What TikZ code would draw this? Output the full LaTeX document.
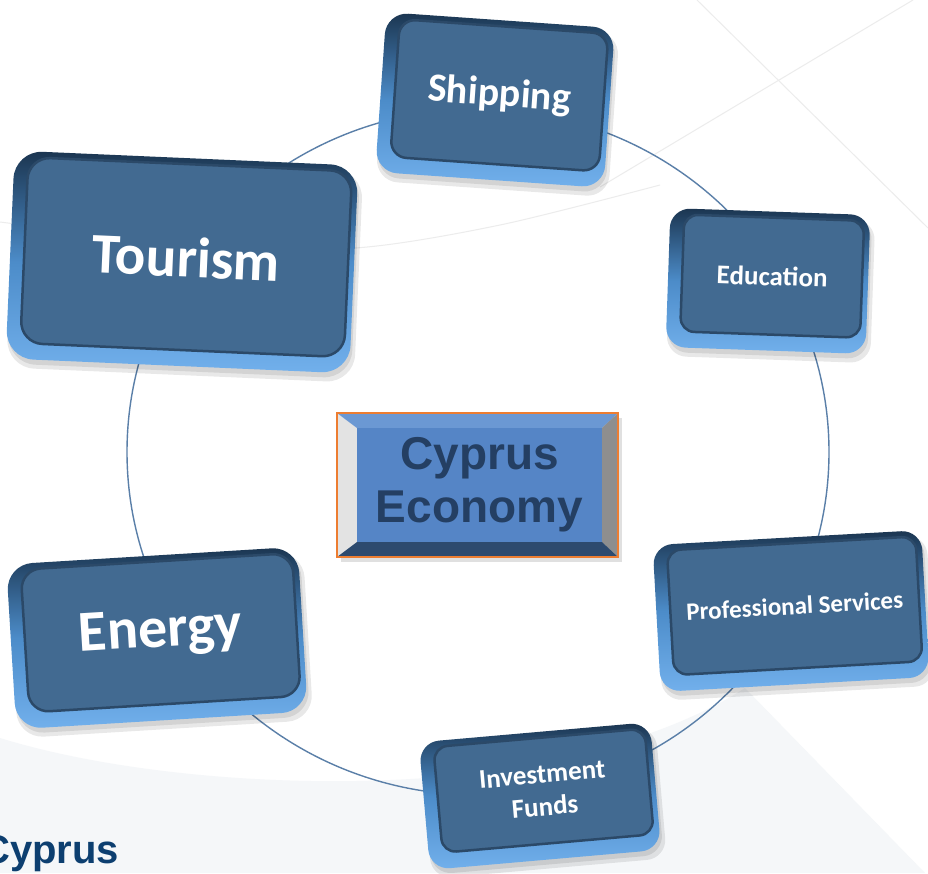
\documentclass[tikz,border=0pt]{standalone}
\usepackage{fontspec}
\newfontfamily\carlito{Carlito}
\newfontfamily\libsans{Liberation Sans}
\usetikzlibrary{calc}
\definecolor{ringcol}{HTML}{5A7FA8}
\definecolor{rimtop}{HTML}{1B3550}
\definecolor{rimmid}{HTML}{4C8CC9}
\definecolor{rimbot}{HTML}{72B0EC}
\definecolor{facecol}{HTML}{426A91}
\definecolor{faceedge}{HTML}{2B4968}
\definecolor{cface}{HTML}{5585C6}
\definecolor{ctop}{HTML}{6B98D3}
\definecolor{cleft}{HTML}{E3E3E3}
\definecolor{cright}{HTML}{8E8E8E}
\definecolor{cbot}{HTML}{2D4A6E}
\definecolor{corange}{HTML}{ED7D31}
\definecolor{ctext}{HTML}{243F63}
\definecolor{bggrey}{HTML}{F5F7F9}
\definecolor{bgline}{HTML}{ECECEC}
\definecolor{logo}{HTML}{0D3F70}
\tikzset{
  ringline/.style={draw=ringcol, line width=1.4pt},
  faintline/.style={draw=bgline, line width=1pt},
  boxshadow/.style={rectangle, fill=black, opacity=0.09, inner sep=0pt},
  boxrim/.style={rectangle, top color=rimtop, bottom color=rimbot, middle color=rimmid, inner sep=0pt},
  boxface/.style={rectangle, fill=facecol, draw=faceedge, line width=2.5pt, text=white, inner sep=0pt, align=center},
  centface/.style={rectangle, fill=cface, inner sep=0pt, align=center, text=ctext},
}
% #1 name, #2 x, #3 y, #4 w, #5 h, #6 angle, #7 radius, #8 font size, #9 text
\newcommand\secbox[9]{%
  \node[boxshadow, rounded corners=#7, minimum width=#4+4, minimum height=#5+4, rotate=#6, xshift=3, yshift=-7] at (#2,#3) {};
  \node[boxshadow, rounded corners=#7, minimum width=#4, minimum height=#5, rotate=#6, xshift=2, yshift=-5] at (#2,#3) {};
  \node[boxrim, rounded corners=#7, minimum width=#4, minimum height=#5, rotate=#6] (#1rim) at (#2,#3) {};
  \node[boxface, rounded corners=#7-6, minimum width=#4-20, minimum height=#5-22, rotate=#6, xshift=4, yshift=5,
        font=\carlito\bfseries\fontsize{#8}{1.2\dimexpr#8pt\relax}\selectfont] (#1) at (#2,#3) {#9};
}
\begin{document}
\begin{tikzpicture}[x=1pt,y=-1pt]
\useasboundingbox (0,0) rectangle (928,873);
\fill[white] (0,0) rectangle (928,873);
% background
\fill[bggrey] (0,738) .. controls (120,775) and (300,790) .. (450,776)
  .. controls (580,762) and (680,730) .. (745,688) -- (925,873) -- (0,873) -- cycle;
\draw[faintline] (697,0) -- (928,228);
\draw[faintline] (913,0) -- (600,187);
\draw[faintline] plot[smooth] coordinates {(0,222) (200,245) (355,248) (500,225) (660,185)};
% logo text
\node[anchor=base west, inner sep=0pt, text=logo, font=\libsans\bfseries\fontsize{40}{44}\selectfont] (logo) at (-19,863) {Cyprus};
% ring
\coordinate (ringc) at (478,452);
\draw[ringline] (ringc) ellipse [x radius=351, y radius=343];
% sector boxes
\secbox{ship}{495}{100}{229}{160}{-4}{22}{40}{Shipping}
\secbox{tour}{182}{262}{344}{208}{-2.5}{28}{57}{Tourism}
\secbox{edu}{768}{281}{200}{139}{-2}{20}{27}{Education}
\secbox{prof}{791}{611}{269}{147}{3.2}{20}{25}{Professional Services}
\secbox{inv}{540}{796}{232}{128}{5}{20}{27}{Investment\\Funds}
\secbox{ener}{157}{638}{292}{165}{3.5}{26}{58}{Energy}
% centre box
\fill[black, opacity=0.12] (341,418) rectangle (622,562);
\fill[cleft] (337,413) -- (357,428) -- (357,542) -- (337,557) -- cycle;
\fill[ctop] (337,413) -- (618,413) -- (602,428) -- (357,428) -- cycle;
\fill[cright] (618,413) -- (618,557) -- (602,542) -- (602,428) -- cycle;
\fill[cbot] (337,557) -- (618,557) -- (602,542) -- (357,542) -- cycle;
\node[centface, minimum width=245, minimum height=114,
      font=\libsans\bfseries\fontsize{46}{53}\selectfont] (cent) at (479.5,485) {Cyprus\\Economy};
\draw[corange, line width=1.5pt] (337,413) rectangle (618,557);
\end{tikzpicture}
\end{document}
